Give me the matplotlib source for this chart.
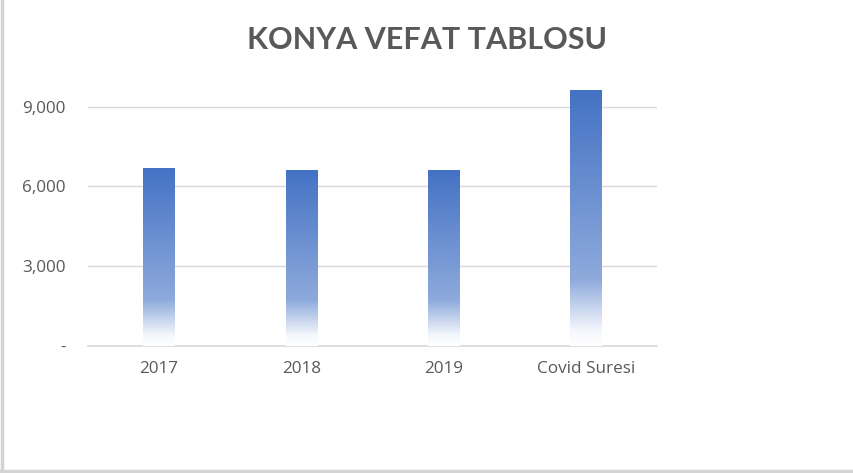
import numpy as np
import matplotlib
matplotlib.use("Agg")
import matplotlib.pyplot as plt
from matplotlib.colors import LinearSegmentedColormap
from matplotlib.lines import Line2D

categories = ["2017", "2018", "2019", "Covid Suresi"]
deaths = [6680, 6600, 6610, 9620]
yticks = [0, 3000, 6000, 9000]
ytick_labels = ["-", "3,000", "6,000", "9,000"]

plt.rcParams['font.family'] = ['Open Sans', 'DejaVu Sans']

fig = plt.figure(figsize=(8.54, 4.73), dpi=100)
ax = fig.add_axes([0.103, 0.2685, 0.666, 0.5625])

x = np.arange(len(categories))
bars = ax.bar(x, deaths, width=0.22, color="none", edgecolor="none", zorder=3)

# gradient fill, white at the bottom -> blue at the top
cmap = LinearSegmentedColormap.from_list(
    "fade", [(0.0, "#ffffff"), (0.06, "#f4f7fc"), (0.26, "#8eaadc"), (1.0, "#4472c4")])
grad = np.linspace(0, 1, 256).reshape(-1, 1)
for b in bars:
    x0, y0 = b.get_x(), b.get_y()
    ax.imshow(grad, cmap=cmap, origin="lower", aspect="auto", zorder=3,
              extent=(x0, x0 + b.get_width(), y0, y0 + b.get_height()))

ax.set_xlim(-0.5, len(categories) - 0.5)
ax.set_ylim(0, 10000)
ax.set_yticks(yticks)
ax.set_yticklabels(ytick_labels)
ax.set_xticks(x)
ax.set_xticklabels(categories)
ax.tick_params(axis="both", length=0, labelsize=12.3, colors="#595959")
ax.tick_params(axis="y", pad=16)
ax.tick_params(axis="x", pad=11)
ax.grid(axis="y", color="#d9d9d9", linewidth=1, zorder=0)
for s in ["top", "right", "left"]:
    ax.spines[s].set_visible(False)
ax.spines["bottom"].set_color("#d9d9d9")
ax.spines["bottom"].set_linewidth(1.2)

fig.text(0.5, 0.915, "KONYA VEFAT TABLOSU", ha="center", va="center",
         fontsize=22, fontweight="bold", color="#595959", family=["Lato", "DejaVu Sans"])

# chart frame edges (left and bottom visible)
fig.add_artist(Line2D([0.002, 0.002], [0, 1], color="#d4d4d4", linewidth=2.5, transform=fig.transFigure))
fig.add_artist(Line2D([0, 1], [0.004, 0.004], color="#d4d4d4", linewidth=2.5, transform=fig.transFigure))

fig.savefig("out.png", dpi=100)
